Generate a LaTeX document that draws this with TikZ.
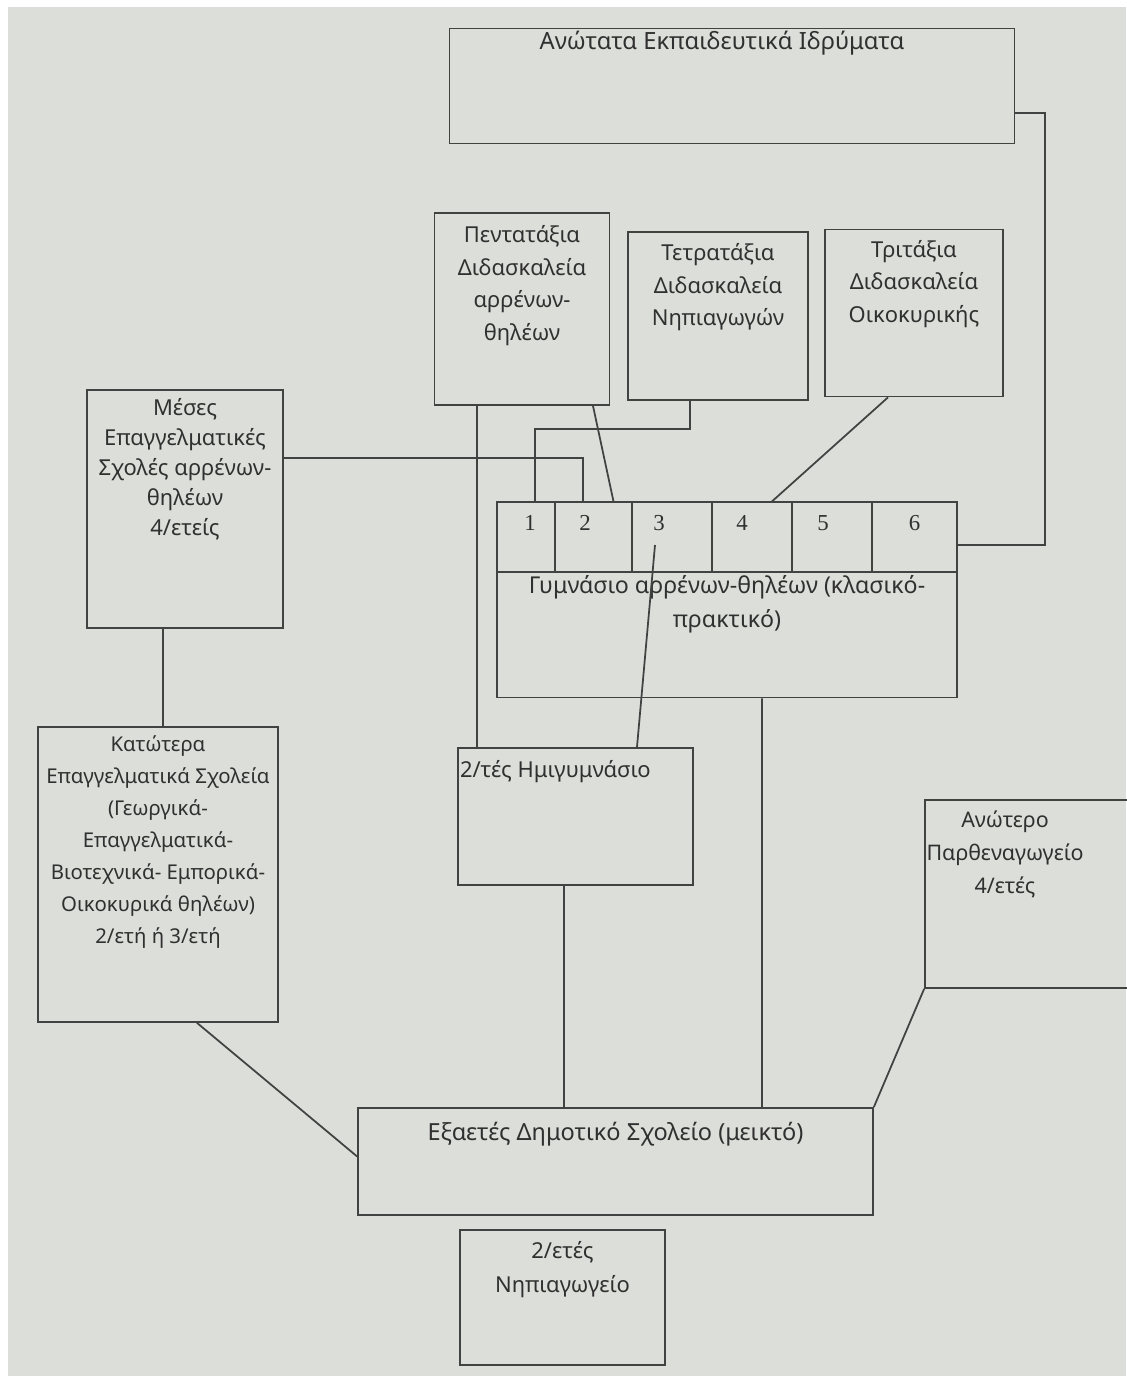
\documentclass[tikz,border=0pt]{standalone}
\usepackage{fontspec}
\newfontfamily\grfont{Noto Sans}
\newfontfamily\numfont{Liberation Serif}
\usetikzlibrary{positioning}
\definecolor{paper}{RGB}{220,222,217}
\definecolor{ink}{RGB}{48,48,48}
\definecolor{wirec}{RGB}{66,66,66}

\begin{document}
\begin{tikzpicture}[x=0.02cm, y=-0.02cm,
	box/.style={draw=wirec, line width=1pt, inner sep=0pt},
	lbl/.style={font=\grfont\fontsize{12.5}{18.5}\selectfont, text=ink, align=center, inner sep=0pt},
	num/.style={font=\numfont\fontsize{13}{15}\selectfont, text=ink, inner sep=0pt},
	wire/.style={draw=wirec, line width=1pt}]
				% Paper:
				\useasboundingbox (0,0) rectangle (1126,1376);
				\fill[white] (0,0) rectangle (1126,1376);
				\fill[paper] (8,7) rectangle (1126,1376);
				% Boxes and texts:
				\node[box, minimum width=11.3cm, minimum height=2.3cm](aei) at (732, 86){} node[lbl, font=\grfont\fontsize{13.5}{19}\selectfont, below=0.7mm of {[xshift=-0.2cm]aei.north}]{Ανώτατα Εκπαιδευτικά Ιδρύματα};
				\node[box, minimum width=3.5cm, minimum height=3.84cm](pent) at (522, 309){} node[lbl, below=2.6mm of pent.north]{Πεντατάξια\\Διδασκαλεία\\αρρένων-\\θηλέων};
				\node[box, minimum width=3.6cm, minimum height=3.36cm](tetr) at (718, 316){} node[lbl, below=2.4mm of tetr.north]{Τετρατάξια\\Διδασκαλεία\\Νηπιαγωγών};
				\node[box, minimum width=3.56cm, minimum height=3.34cm](trit) at (914, 313){} node[lbl, below=2.2mm of trit.north]{Τριτάξια\\Διδασκαλεία\\Οικοκυρικής};
				\node[box, minimum width=3.92cm, minimum height=4.76cm](mes) at (185, 509){} node[lbl, font=\grfont\fontsize{12.5}{17}\selectfont, below=1.8mm of mes.north]{Μέσες\\Επαγγελματικές\\Σχολές αρρένων-\\θηλέων\\4/ετείς};
				\node[box, minimum width=9.2cm, minimum height=3.9cm](gym) at (727, 600){} node[lbl, font=\grfont\fontsize{13.2}{19}\selectfont, below=14.8mm of gym.north]{Γυμνάσιο αρρένων-θηλέων (κλασικό-\\πρακτικό)};
				\node[box, minimum width=1.16cm, minimum height=1.39cm](c1) at (526, 537){} node[num, below=2.7mm of c1.north, xshift=0.08cm]{1};
				\node[box, minimum width=1.54cm, minimum height=1.39cm](c2) at (593.5, 537){} node[num, below=2.7mm of c2.north, xshift=-0.17cm]{2};
				\node[box, minimum width=1.6cm, minimum height=1.39cm](c3) at (672, 537){} node[num, below=2.7mm of c3.north, xshift=-0.26cm]{3};
				\node[box, minimum width=1.6cm, minimum height=1.39cm](c4) at (752, 537){} node[num, below=2.7mm of c4.north, xshift=-0.2cm]{4};
				\node[box, minimum width=1.6cm, minimum height=1.39cm](c5) at (832, 537){} node[num, below=2.7mm of c5.north, xshift=-0.18cm]{5};
				\node[box, minimum width=1.7cm, minimum height=1.39cm](c6) at (914.5, 537){} node[num, below=2.7mm of c6.north]{6};
				\node[box, minimum width=4.7cm, minimum height=2.74cm](hmi) at (575.5, 816.5){} node[lbl, anchor=north west] at ([xshift=0.05cm, yshift=-0.26cm]hmi.north west){2/τές Ημιγυμνάσιο};
				\node[box, minimum width=4.8cm, minimum height=5.9cm](kat) at (158, 874.5){} node[lbl, font=\grfont\fontsize{11.6}{18.2}\selectfont, below=1.9mm of kat.north]{Κατώτερα\\Επαγγελματικά Σχολεία\\(Γεωργικά-\\Επαγγελματικά-\\Βιοτεχνικά- Εμπορικά-\\Οικοκυρικά θηλέων)\\2/ετή ή 3/ετή};
				\node[box, minimum width=4.32cm, minimum height=3.76cm](parth) at (1033, 894){} node[lbl, font=\grfont\fontsize{12.2}{18.8}\selectfont, below=2.2mm of {[xshift=-0.56cm]parth.north}]{Ανώτερο\\Παρθεναγωγείο\\4/ετές};
				\node[box, minimum width=10.3cm, minimum height=2.14cm](ex) at (615.5, 1161.5){} node[lbl, font=\grfont\fontsize{13.4}{19}\selectfont, below=3mm of ex.north]{Εξαετές Δημοτικό Σχολείο (μεικτό)};
				\node[box, minimum width=4.1cm, minimum height=2.7cm](nip) at (562.5, 1297.5){} node[lbl, font=\grfont\fontsize{12.5}{19.5}\selectfont, below=2.4mm of nip.north]{2/ετές\\Νηπιαγωγείο};
				% Connectors:
				\draw[wire] ([yshift=-0.54cm]aei.east) -- ++(0.6cm, 0) |- ([yshift=1.1cm]gym.east);
				\draw[wire] ([yshift=1.02cm]mes.east) -| ([xshift=-0.21cm]c2.north);
				\draw[wire] ([xshift=-0.56cm]tetr.south) -- ++(0, -0.56cm) -| ([xshift=0.18cm]c1.north);
				\draw[wire] ([xshift=1.42cm]pent.south) -- ([xshift=0.4cm]c2.north);
				\draw[wire] ([xshift=-0.9cm]pent.south) -- ([xshift=-1.97cm]hmi.north);
				\draw[wire] ([xshift=-0.52cm]trit.south) -- ([xshift=0.4cm]c4.north);
				\coordinate (c3in) at ([xshift=-0.34cm, yshift=-0.16cm]c3.center);
				\draw[wire] (c3in) -- ([xshift=1.23cm]hmi.north);
				\draw[wire] ([xshift=0.7cm]gym.south) -- ([xshift=2.93cm]ex.north);
				\draw[wire] ([xshift=-0.23cm]hmi.south) -- ([xshift=-1.03cm]ex.north);
				\draw[wire] ([xshift=-0.44cm]mes.south) -- ([xshift=0.1cm]kat.north);
				\draw[wire] ([xshift=0.78cm]kat.south) -- ([yshift=0.1cm]ex.west);
				\draw[wire] (parth.south west) -- (ex.north east);
			\end{tikzpicture}
\end{document}
